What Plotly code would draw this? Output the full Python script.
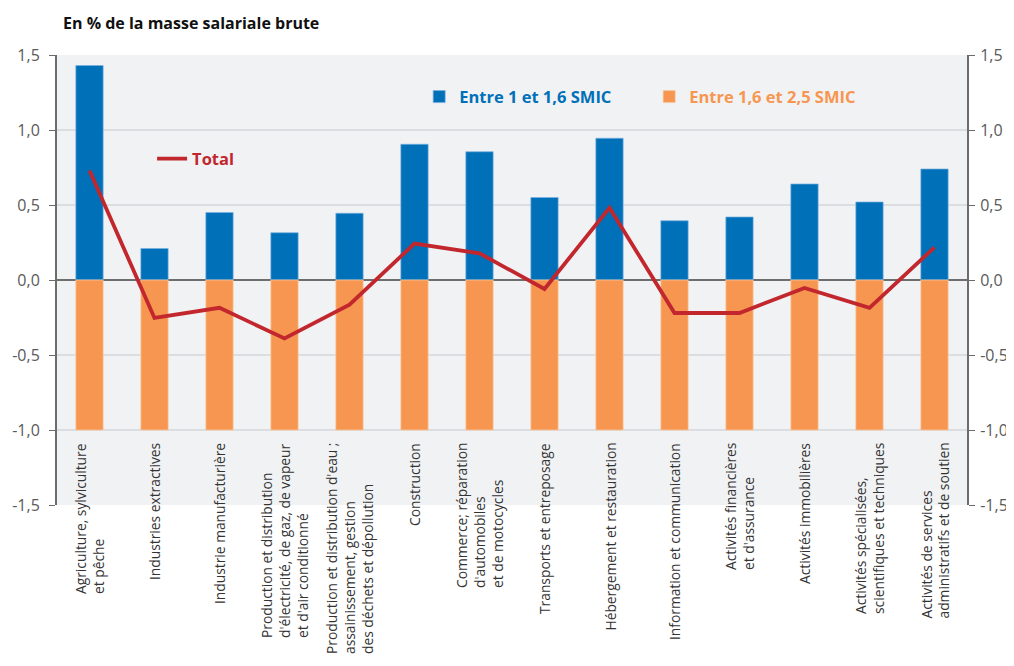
import plotly.graph_objects as go

categories = [
    "Agriculture, sylviculture<br>et pêche",
    "Industries extractives",
    "Industrie manufacturière",
    "Production et distribution<br>d'électricité, de gaz, de vapeur<br>et d'air conditionné",
    "Production et distribution d'eau ;<br>assainissement, gestion<br>des déchets et dépollution",
    "Construction",
    "Commerce; réparation<br>d'automobiles<br>et de motocycles",
    "Transports et entreposage",
    "Hébergement et restauration",
    "Information et communication",
    "Activités financières<br>et d'assurance",
    "Activités immobilières",
    "Activités spécialisées,<br>scientifiques et techniques",
    "Activités de services<br>administratifs et de soutien",
]
cat_ids = [f"c{i}" for i in range(len(categories))]

entre_1_16 = [1.43, 0.21, 0.45, 0.315, 0.445, 0.905, 0.855, 0.55, 0.945, 0.395, 0.42, 0.64, 0.52, 0.74]
entre_16_25 = [-1.0] * 14
total = [0.73, -0.253, -0.185, -0.39, -0.165, 0.243, 0.178, -0.06, 0.482, -0.22, -0.22, -0.053, -0.186, 0.218]

y_ticks = [-1.5, -1.0, -0.5, 0.0, 0.5, 1.0, 1.5]
y_ticktext = ["-1,5", "-1,0", "-0,5", "0,0", "0,5", "1,0", "1,5"]

BLUE = "#0070b8"
ORANGE = "#f79650"
RED = "#c1272d"
FONT = "Open Sans"

fig = go.Figure()
fig.add_trace(go.Bar(
    x=cat_ids, y=entre_1_16, name=f"<span style='color:{BLUE}'><b>Entre 1 et 1,6 SMIC</b></span>",
    marker=dict(color=BLUE, line=dict(color="rgba(120,175,225,0.9)", width=0.8)),
    legend="legend",
))
fig.add_trace(go.Bar(
    x=cat_ids, y=entre_16_25, name=f"<span style='color:{ORANGE}'><b>Entre 1,6 et 2,5 SMIC</b></span>",
    marker=dict(color=ORANGE, line=dict(color="rgba(250,200,160,0.9)", width=0.8)),
    legend="legend",
))
fig.add_trace(go.Scatter(
    x=cat_ids, y=total, name=f"<span style='color:{RED}'><b>Total</b></span>",
    mode="lines", line=dict(color=RED, width=3.8),
    yaxis="y2", legend="legend2",
))

annotations = []
for cid, lab in zip(cat_ids, categories):
    annotations.append(dict(
        x=cid, y=-1.0, xref="x", yref="y", text=lab, showarrow=False,
        textangle=-90, align="left", xanchor="center", yanchor="top", yshift=-11,
        font=dict(family=FONT, size=13.8, color="#333333"),
    ))

yaxis_common = dict(
    range=[-1.5, 1.5], tickvals=y_ticks, ticktext=y_ticktext,
    showline=True, linecolor="#6b6b6b", linewidth=2,
    ticks="outside", ticklen=6, tickcolor="#6b6b6b", tickwidth=1,
    tickfont=dict(family=FONT, size=16, color="#5a5a5a"),
    automargin=False,
)

fig.update_layout(
    width=1006, height=650,
    margin=dict(l=49, r=47, t=47, b=153),
    paper_bgcolor="white", plot_bgcolor="#f1f2f4",
    barmode="relative", bargap=0.58,
    font=dict(family=FONT),
    title=dict(text="<b>En % de la masse salariale brute</b>", x=55/1006, xanchor="left",
               y=1 - 15/650, yanchor="middle", font=dict(family=FONT, size=16, color="#111111")),
    xaxis=dict(showticklabels=False, showgrid=False, zeroline=False, showline=False, ticks="",
               automargin=False),
    yaxis=dict(**yaxis_common, showgrid=True, gridcolor="#dcdde1", gridwidth=1.5,
               zeroline=True, zerolinecolor="#6e6e6e", zerolinewidth=2, ticklabelstandoff=6),
    yaxis2=dict(**yaxis_common, overlaying="y", side="right", showgrid=False, zeroline=False,
                ticklabelstandoff=2),
    legend=dict(orientation="h", x=0.398, y=0.907, xanchor="left", yanchor="middle",
                bgcolor="rgba(0,0,0,0)", font=dict(family=FONT, size=16.5),
                entrywidth=185, entrywidthmode="pixels"),
    legend2=dict(x=0.1045, y=0.769, xanchor="left", yanchor="middle",
                 bgcolor="rgba(0,0,0,0)", font=dict(family=FONT, size=16.5)),
    annotations=annotations,
    showlegend=True,
)

fig.write_html("out.html")
